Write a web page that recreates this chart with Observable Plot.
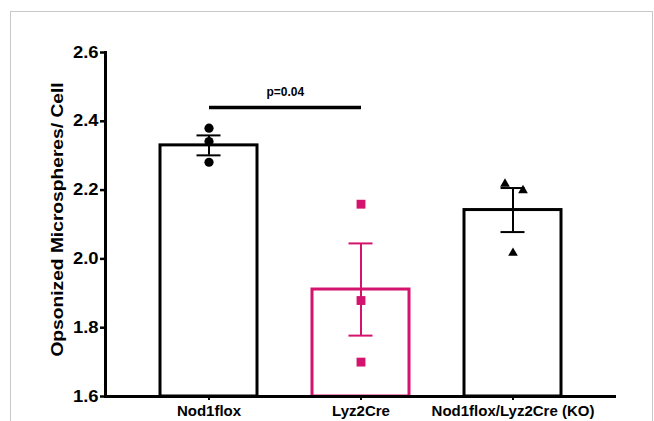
<!DOCTYPE html>
<html><head><meta charset="utf-8">
<script src="https://cdn.jsdelivr.net/npm/d3@7"></script>
<script src="https://cdn.jsdelivr.net/npm/@observablehq/plot@0.6"></script>
<style>
body{margin:0;background:#fff}
#wrap{position:relative;width:654px;height:421px}
#border{position:absolute;left:10px;top:11px;width:641px;height:420px;border:1px solid #c8c8c8;border-bottom:none;pointer-events:none}
</style>
</head><body><div id="wrap"><div id="border"></div></div>
<script>
const groups = ["Nod1flox", "Lyz2Cre", "Nod1flox/Lyz2Cre (KO)"];
const means = [2.330, 1.911, 2.142];
const sems = [0.029, 0.134, 0.064];
const colors = ["#000000", "#d4136f", "#000000"];
const nodPts = [2.380, 2.341, 2.281];
const lyzPts = [2.159, 1.879, 1.700];
const koPts = [2.218, 2.199, 2.017];
const yTicks = [1.6, 1.8, 2.0, 2.2, 2.4, 2.6];
const yTitle = "Opsonized Microspheres/ Cell";
const pLabel = "p=0.04";
const pValueY = 2.44;

const summary = groups.map((g, i) => ({group: g, mean: means[i], sem: sems[i], color: colors[i]}));
const fmt = d3.format(".1f");

const xOpts = {domain: groups, range: [131.75, 589.25], paddingInner: 0.36, paddingOuter: 0.18, align: 0.5};
const xs = Plot.scale({x: {type: "band", ...xOpts}});
const halfStep = (xs.apply(groups[1]) - xs.apply(groups[0])) / 2;

const capInset = 36.5;
const chart = Plot.plot({
  width: 654, height: 421,
  marginLeft: 105, marginRight: 38, marginTop: 52, marginBottom: 25,
  style: {fontFamily: "'Liberation Sans', Arial, sans-serif", background: "transparent", color: "#000"},
  x: {type: "band", ...xOpts, label: null},
  y: {domain: [1.6, 2.6], label: null},
  color: {type: "identity"},
  marks: [
    Plot.barY(summary, {x: "group", y1: () => 1.6, y2: "mean", fill: "white", stroke: "color", strokeWidth: 3}),
    Plot.ruleX(summary, {x: "group", y1: d => d.mean - d.sem, y2: d => d.mean + d.sem, stroke: "color", strokeWidth: 2}),
    Plot.tickY(summary, {x: "group", y: d => d.mean + d.sem, stroke: "color", strokeWidth: 2, insetLeft: capInset, insetRight: capInset}),
    Plot.tickY(summary, {x: "group", y: d => d.mean - d.sem, stroke: "color", strokeWidth: 2, insetLeft: capInset, insetRight: capInset}),
    Plot.dot(nodPts, {x: () => groups[0], y: d => d, r: 4.6, symbol: "circle", fill: colors[0]}),
    Plot.dot(lyzPts, {x: () => groups[1], y: d => d, r: 5, symbol: "square", fill: colors[1]}),
    Plot.dot(koPts.slice(0, 1), {x: () => groups[2], y: d => d, r: 3.6, symbol: "triangle", fill: colors[2], dx: -8}),
    Plot.dot(koPts.slice(1, 2), {x: () => groups[2], y: d => d, r: 3.6, symbol: "triangle", fill: colors[2], dx: 10}),
    Plot.dot(koPts.slice(2, 3), {x: () => groups[2], y: d => d, r: 3.6, symbol: "triangle", fill: colors[2]}),
    Plot.ruleY([1.6], {stroke: "#000", strokeWidth: 3}),
    Plot.frame({anchor: "left", stroke: "#000", strokeWidth: 3}),
    Plot.axisY({ticks: yTicks, tickFormat: fmt, tickSize: 5, tickPadding: 2, fontSize: 16, fontWeight: "bold", strokeWidth: 2.5, label: null}),
    Plot.axisX({tickSize: 4, tickPadding: 5, fontSize: 15, fontWeight: "bold", strokeWidth: 2, label: null}),
    Plot.link([pValueY], {x1: () => groups[0], x2: () => groups[1], y1: d => d, y2: d => d, stroke: "#000", strokeWidth: 3.5}),
    Plot.text([pLabel], {x: () => groups[0], y: () => pValueY, dx: halfStep, dy: -15, fontSize: 12, fontWeight: "bold"}),
    Plot.text([yTitle], {frameAnchor: "left", textAnchor: "middle", rotate: -90, dx: -48, dy: -5, fontSize: 16, fontWeight: "bold"})
  ]
});
chart.style.position = "absolute";
chart.style.left = "0px";
chart.style.top = "0px";
document.getElementById("wrap").appendChild(chart);

// widen y tick labels and the title along their text direction, to match the reference's wide lettering
const tickSet = new Set(yTicks.map(fmt));
chart.querySelectorAll("text").forEach(t => {
  const s = t.textContent;
  let k = 0;
  if (tickSet.has(s)) k = 1.15;
  else if (s === yTitle) k = 1.2;
  if (k) {
    const w = t.getComputedTextLength();
    t.setAttribute("textLength", (w * k).toFixed(1));
    t.setAttribute("lengthAdjust", "spacingAndGlyphs");
  }
});
</script>
</body></html>
